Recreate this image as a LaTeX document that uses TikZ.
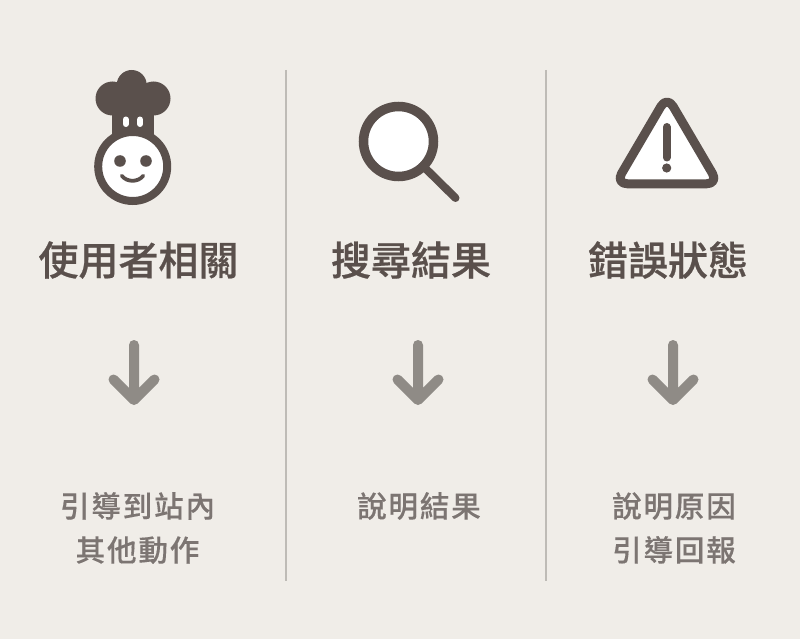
\documentclass[tikz,border=0pt]{standalone}
\usepackage{fontspec}
\newfontfamily\titlefont[FakeBold=0.6]{Noto Sans CJK TC Medium}
\newfontfamily\bodyfont[LetterSpace=6,FakeBold=0.25]{Noto Sans CJK TC Medium}
\usepackage{tikz}
\definecolor{paper}{RGB}{240,237,232}
\definecolor{darkicon}{RGB}{90,80,76}
\definecolor{midgrey}{RGB}{143,139,134}
\definecolor{rulegrey}{RGB}{190,187,182}
\definecolor{softtext}{RGB}{124,117,114}
\tikzset{
    heading/.style={anchor=center, text=darkicon, inner sep=0pt, font=\titlefont\fontsize{40}{46}\selectfont},
    advice/.style={anchor=center, text=softtext, inner sep=0pt, align=center, font=\bodyfont\fontsize{29.6}{44}\selectfont},
    divider/.style={rulegrey, line width=1.5pt},
    pointer/.style={midgrey, line width=10pt, line cap=round, line join=round},
    outline/.style={darkicon, fill=white}
}
\begin{document}
\begin{tikzpicture}[x=1pt, y=-1pt]
    \useasboundingbox[fill=paper] (0,0) rectangle (800,639);

    % dividers
    \coordinate (ruleAtop) at (286,70);
    \coordinate (ruleAbot) at (286,581);
    \coordinate (ruleBtop) at (546,70);
    \coordinate (ruleBbot) at (546,581);
    \draw[divider] (ruleAtop) -- (ruleAbot);
    \draw[divider] (ruleBtop) -- (ruleBbot);

    % chef
    \fill[darkicon] (131.7,85) circle (15);
    \fill[darkicon] (112.5,98.5) circle (17);
    \fill[darkicon] (153.5,98.5) circle (17);
    \fill[darkicon] (112,95) rectangle (154,140);
    \draw[outline, line width=8pt] (132.7,166.5) circle (34.5);
    \draw[white, line width=6pt, line cap=round] (125.7,119.5) -- (125.7,124) (140,119.5) -- (140,124);
    \fill[darkicon] (120,161) circle (5.8) (146,161) circle (5.8);
    \draw[darkicon, line width=3.8pt, line cap=round] (121.7,175.7) .. controls (127,182.5) and (138,182.5) .. (143.3,175.7);

    % magnifier
    \draw[darkicon, line width=8pt, line cap=round] (423,166) -- (455.5,198);
    \draw[outline, line width=9.5pt] (398.5,141.5) circle (35);

    % warning
    \draw[outline, line width=9pt, line join=round, rounded corners=12pt] (667,96) -- (718.5,183.8) -- (615.5,183.8) -- cycle;
    \draw[darkicon, line width=8pt, line cap=round] (666.7,127) -- (666.7,157.5);
    \fill[darkicon] (666.7,168) circle (4.6);

    % headings
    \node[heading] (headUser) at (138.5,260) {使用者相關};
    \node[heading] (headSearch) at (411,260) {搜尋結果};
    \node[heading] (headError) at (668,260) {錯誤狀態};

    % arrows
    \coordinate (arrowAtop) at (134,345);
    \coordinate (arrowAtip) at (134,400);
    \coordinate (arrowBtop) at (418,345);
    \coordinate (arrowBtip) at (418,400);
    \coordinate (arrowCtop) at (673,345);
    \coordinate (arrowCtip) at (673,400);
    \draw[pointer] (arrowAtop) -- (arrowAtip) (113.5,379.5) -- (arrowAtip) -- (154.5,379.5);
    \draw[pointer] (arrowBtop) -- (arrowBtip) (397.5,379.5) -- (arrowBtip) -- (438.5,379.5);
    \draw[pointer] (arrowCtop) -- (arrowCtip) (652.5,379.5) -- (arrowCtip) -- (693.5,379.5);

    % advice
    \node[advice] (textUser) at (137.5,528) {引導到站內\\其他動作};
    \node[advice] (textSearch) at (419,506) {說明結果};
    \node[advice] (textError) at (674,528) {說明原因\\引導回報};
\end{tikzpicture}
\end{document}
